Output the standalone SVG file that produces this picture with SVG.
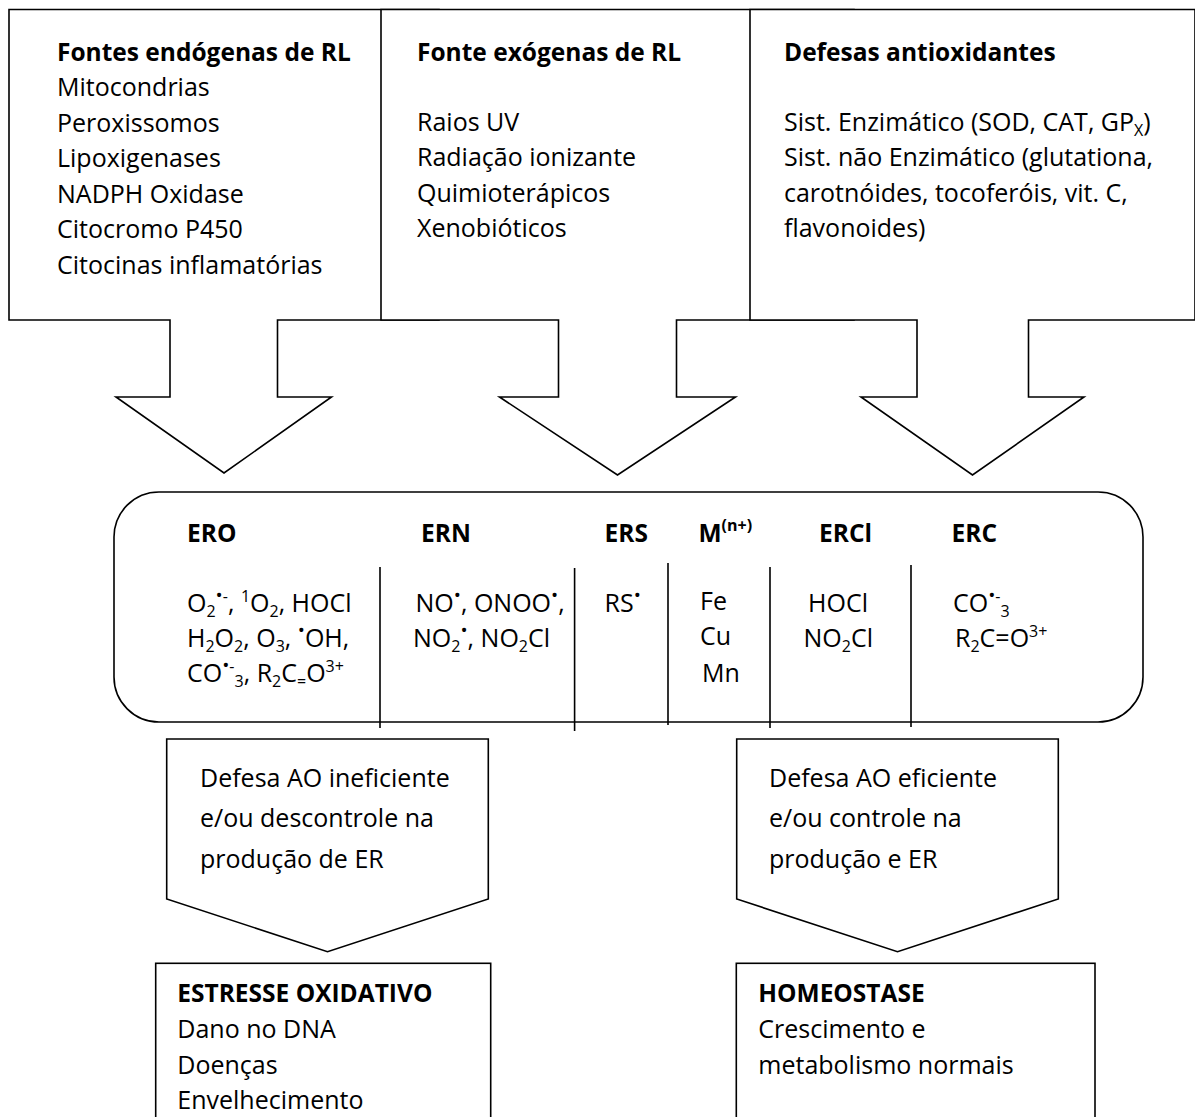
<svg xmlns="http://www.w3.org/2000/svg" width="1195" height="1117" viewBox="0 0 1195 1117">
<style>
.shape{fill:#fff;stroke:#000;stroke-width:1.6}
.div{stroke:#000;stroke-width:1.6;fill:none}
text{font-family:"Open Sans","Noto Sans",sans-serif;font-size:25px;fill:#000}
.b{font-weight:bold;font-size:24.5px}
.s{font-size:16px}
.d{font-size:19px}
</style>
<rect width="1195" height="1117" fill="#fff"/>
<g id="endogenas">
<path class="shape" d="M9,9.5 H439 V320 H277.5 V397 H331.5 L224,473 L116,397 H170 V320 H9 Z"/>
<text x="57" y="61" class="b">Fontes endógenas de RL</text>
<text x="57" y="96">Mitocondrias</text>
<text x="57" y="131.6">Peroxissomos</text>
<text x="57" y="167.2">Lipoxigenases</text>
<text x="57" y="202.8">NADPH Oxidase</text>
<text x="57" y="238.4">Citocromo P450</text>
<text x="57" y="274">Citocinas inflamatórias</text>
</g>
<g id="exogenas">
<path class="shape" d="M381,9.5 H854 V320 H676.5 V397 H735.5 L617.5,475 L499.5,397 H558.5 V320 H381 Z"/>
<text x="417" y="61" class="b">Fonte exógenas de RL</text>
<text x="417" y="130.5">Raios UV</text>
<text x="417" y="166.1">Radiação ionizante</text>
<text x="417" y="201.7">Quimioterápicos</text>
<text x="417" y="237.3">Xenobióticos</text>
</g>
<g id="antioxidantes">
<path class="shape" d="M750,9.5 H1195 V320 H1028.5 V397 H1084 L972.5,475 L861,397 H917 V320 H750 Z"/>
<text x="784" y="61" class="b">Defesas antioxidantes</text>
<text x="784" y="130.5">Sist. Enzimático (SOD, CAT, GP<tspan class="s" dy="5">X</tspan><tspan dy="-5">)</tspan></text>
<text x="784" y="166.1">Sist. não Enzimático (glutationa,</text>
<text x="784" y="201.7">carotnóides, tocoferóis, vit. C,</text>
<text x="784" y="237.3">flavonoides)</text>
</g>
<g id="especies">
<rect class="shape" x="114" y="492" width="1029" height="230" rx="45" ry="45"/>
<path class="div" d="M380,567 V728 M574.6,568 V731 M668,563 V725 M770,567 V728 M911,565 V727"/>
<text x="187" y="541.7" class="b">ERO</text>
<text x="421" y="541.7" class="b">ERN</text>
<text x="604.5" y="541.7" class="b">ERS</text>
<text x="698.5" y="541.7" class="b">M<tspan class="s" dy="-11">(n+)</tspan></text>
<text x="819" y="541.7" class="b">ERCl</text>
<text x="951.5" y="541.7" class="b">ERC</text>
<text x="187" y="611.7">O<tspan class="s" dy="5">2</tspan><tspan class="d" dy="-15">•</tspan><tspan class="s">-</tspan><tspan dy="10">, </tspan><tspan class="s" dy="-10">1</tspan><tspan dy="10">O</tspan><tspan class="s" dy="5">2</tspan><tspan dy="-5">, HOCl</tspan></text>
<text x="187" y="646.7">H<tspan class="s" dy="5">2</tspan><tspan dy="-5">O</tspan><tspan class="s" dy="5">2</tspan><tspan dy="-5">, O</tspan><tspan class="s" dy="5">3</tspan><tspan dy="-5">, </tspan><tspan class="d" dy="-10">•</tspan><tspan dy="10">OH,</tspan></text>
<text x="187" y="681.7">CO<tspan class="d" dy="-10">•</tspan><tspan class="s">-</tspan><tspan class="s" dy="15">3</tspan><tspan dy="-5">, R</tspan><tspan class="s" dy="5">2</tspan><tspan dy="-5">C</tspan><tspan class="s" dy="5">=</tspan><tspan dy="-5">O</tspan><tspan class="s" dy="-10">3+</tspan></text>
<text x="415.5" y="611.7">NO<tspan class="d" dy="-10">•</tspan><tspan dy="10">, ONOO</tspan><tspan class="d" dy="-10">•</tspan><tspan dy="10">,</tspan></text>
<text x="413" y="646.7">NO<tspan class="s" dy="5">2</tspan><tspan class="d" dy="-15">•</tspan><tspan dy="10">, NO</tspan><tspan class="s" dy="5">2</tspan><tspan dy="-5">Cl</tspan></text>
<text x="604.5" y="611.7">RS<tspan class="d" dy="-10">•</tspan></text>
<text x="700" y="610">Fe</text>
<text x="700" y="645">Cu</text>
<text x="702" y="681.7">Mn</text>
<text x="808" y="611.7">HOCl</text>
<text x="803.5" y="646.7">NO<tspan class="s" dy="5">2</tspan><tspan dy="-5">Cl</tspan></text>
<text x="953" y="611.7">CO<tspan class="d" dy="-10">•</tspan><tspan class="s">-</tspan><tspan class="s" dy="15">3</tspan></text>
<text x="955" y="646.7">R<tspan class="s" dy="5">2</tspan><tspan dy="-5">C=O</tspan><tspan class="s" dy="-10">3+</tspan></text>
</g>
<g id="defesa_ineficiente">
<path class="shape" d="M166.7,739 H488.3 V899 L327.5,951.7 L166.7,899 Z"/>
<text x="200" y="786.7">Defesa AO ineficiente</text>
<text x="200" y="827.3">e/ou descontrole na</text>
<text x="200" y="868.3">produção de ER</text>
</g>
<g id="defesa_eficiente">
<path class="shape" d="M736.7,739 H1058.3 V899 L897.5,951.7 L736.7,899 Z"/>
<text x="769" y="786.7">Defesa AO eficiente</text>
<text x="769" y="827.3">e/ou controle na</text>
<text x="769" y="868.3">produção e ER</text>
</g>
<g id="estresse">
<rect class="shape" x="155.7" y="963.3" width="335" height="170"/>
<text x="177.3" y="1001.7" class="b">ESTRESSE OXIDATIVO</text>
<text x="177.3" y="1038.3">Dano no DNA</text>
<text x="177.3" y="1073.5">Doenças</text>
<text x="177.3" y="1109.3">Envelhecimento</text>
</g>
<g id="homeostase">
<rect class="shape" x="736.3" y="963.3" width="358.7" height="170"/>
<text x="758.3" y="1001.7" class="b">HOMEOSTASE</text>
<text x="758.3" y="1038.3">Crescimento e</text>
<text x="758.3" y="1073.5">metabolismo normais</text>
</g>
<g id="connectors"></g>
</svg>
